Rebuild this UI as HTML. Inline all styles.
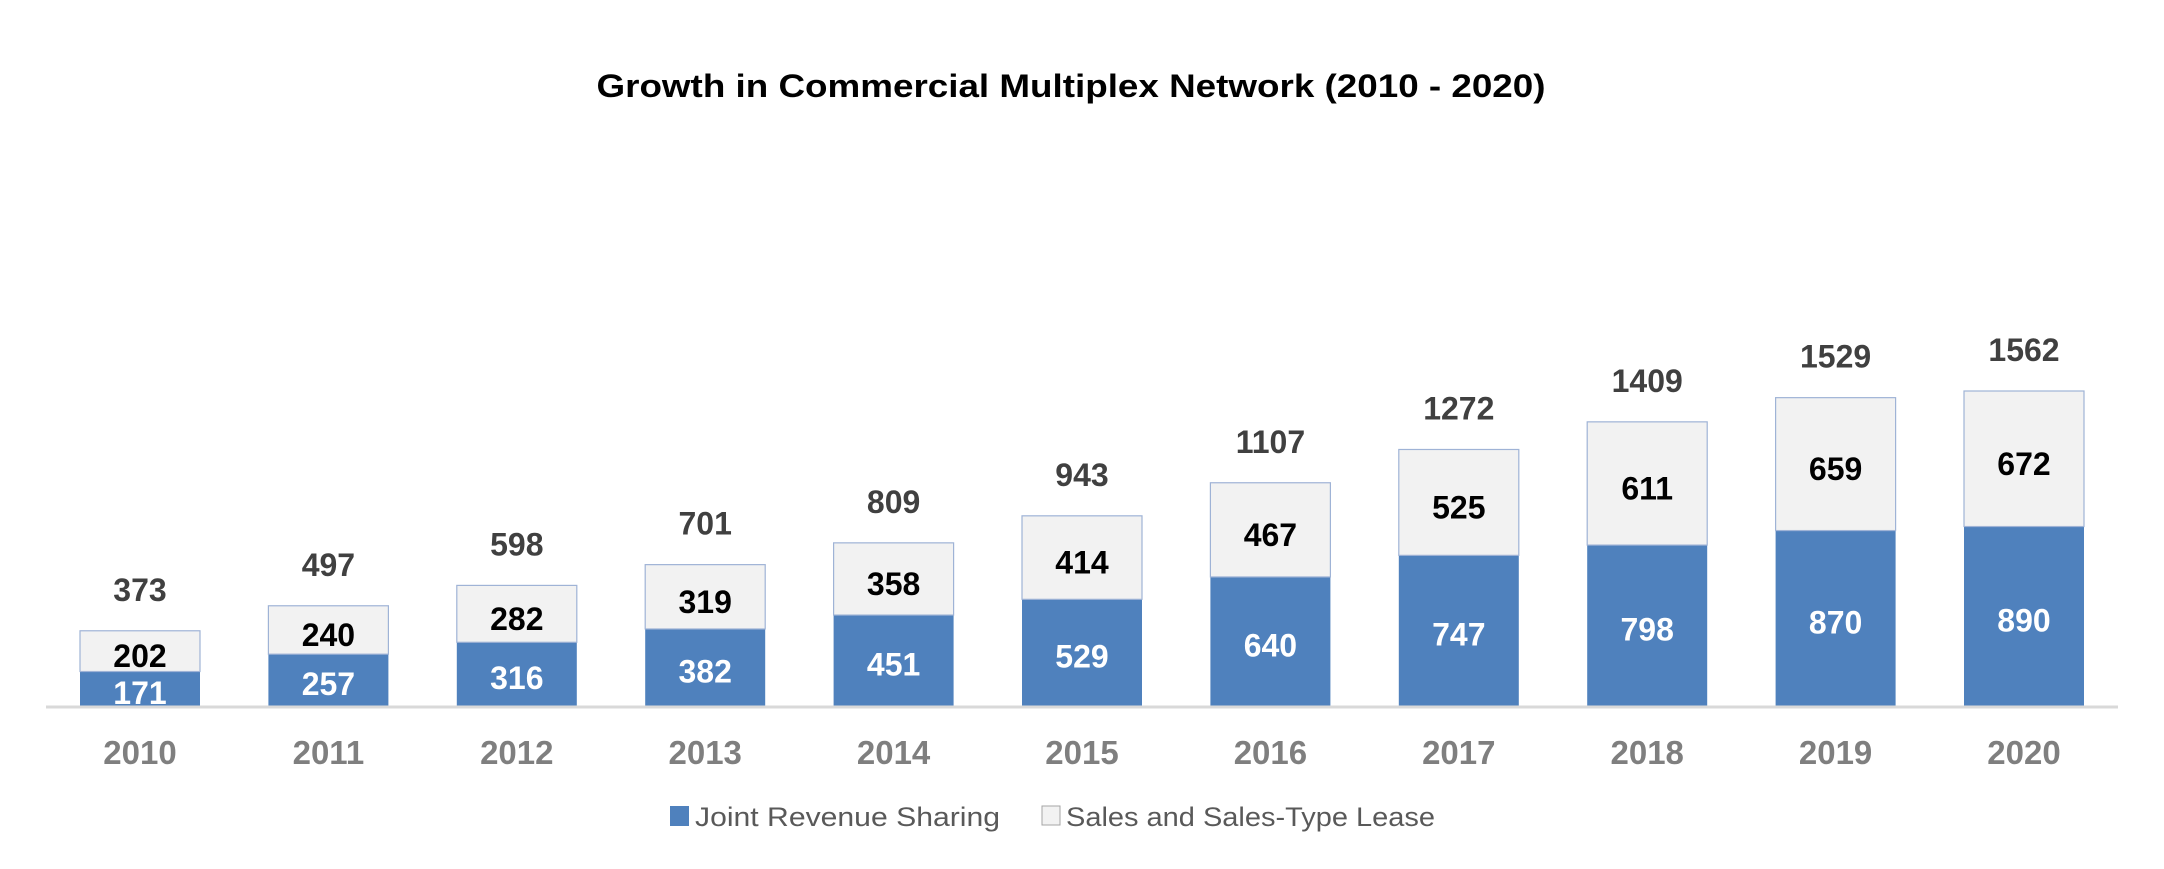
<!DOCTYPE html>
<html><head><meta charset="utf-8"><style>
html,body{margin:0;padding:0;background:#fff;}
svg{display:block;font-family:"Liberation Sans",sans-serif;}
</style></head><body>
<svg id="chart" width="2164" height="869" viewBox="0 0 2164 869" xmlns="http://www.w3.org/2000/svg">
<text x="1071" y="97" text-anchor="middle" font-size="32" font-weight="bold" fill="#000" textLength="949" lengthAdjust="spacingAndGlyphs">Growth in Commercial Multiplex Network (2010 - 2020)</text>
<g id="bars"></g>
<line x1="46" y1="707" x2="2118" y2="707" stroke="#d9d9d9" stroke-width="3"/>
<g>
<rect x="670" y="806" width="19" height="20" fill="#4f81bd"/>
<text x="695" y="826" font-size="27" fill="#595959" textLength="305" lengthAdjust="spacingAndGlyphs">Joint Revenue Sharing</text>
<rect x="1042" y="806" width="18" height="19" fill="#f2f2f2" stroke="#a5a5a5" stroke-width="1"/>
<text x="1066" y="826" font-size="27" fill="#595959" textLength="369" lengthAdjust="spacingAndGlyphs">Sales and Sales-Type Lease</text>
</g>
</svg>
<script>
const years = ["2010","2011","2012","2013","2014","2015","2016","2017","2018","2019","2020"];
const joint = [171,257,316,382,451,529,640,747,798,870,890];
const sales = [202,240,282,319,358,414,467,525,611,659,672];

const NS = "http://www.w3.org/2000/svg";
const g = document.getElementById("bars");
const baseY = 706, pxPerUnit = 315/1562;
const x0 = 140, pitch = 188.4, barW = 120;
function xCenter(i){ return x0 + i*pitch; }
function yScale(v){ return baseY - v*pxPerUnit; }
function mk(tag, attrs, txt){
  const e = document.createElementNS(NS, tag);
  for (const k in attrs) e.setAttribute(k, attrs[k]);
  if (txt !== undefined) e.textContent = txt;
  g.appendChild(e);
  return e;
}
years.forEach((yr, i) => {
  const cx = xCenter(i);
  const yJ = yScale(joint[i]);
  const total = joint[i] + sales[i];
  const yT = yScale(total);
  const r1 = mk("rect", {x: cx-barW/2, y: yJ, width: barW, height: baseY-yJ, fill: "#4f81bd"});
  
  
  const r2 = mk("rect", {x: cx-barW/2, y: yT, width: barW, height: yJ-yT, fill: "#f2f2f2", stroke: "#9fb3d6", "stroke-width": 1.2});
  
  
  const t1 = mk("text", {x: cx, y: (yJ+baseY)/2 + 15, "text-anchor": "middle", "font-size": 32, "font-weight": "bold", fill: "#fff"}, String(joint[i]));
  
  
  const t2 = mk("text", {x: cx, y: (yT+yJ)/2 + 16, "text-anchor": "middle", "font-size": 32, "font-weight": "bold", fill: "#000"}, String(sales[i]));
  
  
  const t3 = mk("text", {x: cx, y: yT - 30, "text-anchor": "middle", "font-size": 32, "font-weight": "bold", fill: "#404040"}, String(total));
  
  
  const t4 = mk("text", {x: cx, y: 764, "text-anchor": "middle", "font-size": 33, "font-weight": "bold", fill: "#7f7f7f"}, yr);
  
  
});
</script>
</body></html>
